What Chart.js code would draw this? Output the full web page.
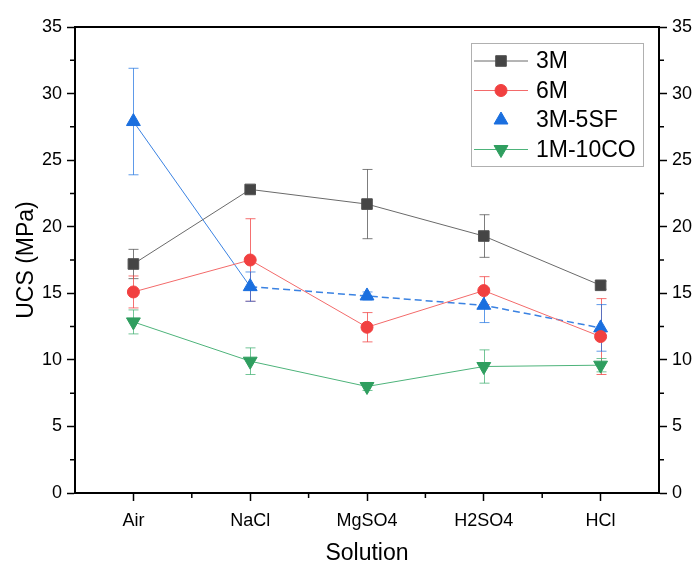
<!DOCTYPE html>
<html>
<head>
<meta charset="utf-8">
<script src="https://cdn.jsdelivr.net/npm/chart.js@4/dist/chart.umd.min.js"></script>
<style>
  html, body { margin: 0; padding: 0; background: #fff; }
</style>
</head>
<body>
<canvas id="ucsChart" width="698" height="565"></canvas>
<script>
const solutions = ['Air', 'NaCl', 'MgSO4', 'H2SO4', 'HCl'];

const ucs3M = [17.2, 22.8, 21.7, 19.3, 15.6];
const err3M = [1.1, 0.3, 2.6, 1.6, 0.3];

const ucs6M = [15.1, 17.5, 12.45, 15.2, 11.75];
const err6M = [1.2, 3.1, 1.1, 1.05, 2.85];

const ucs3M5SF = [27.9, 15.5, 14.8, 14.1, 12.4];
const err3M5SF = [4.0, 1.1, 0.3, 1.3, 1.75];

const ucs1M10CO = [12.85, 9.9, 8.0, 9.5, 9.6];
const err1M10CO = [0.9, 1.0, 0.3, 1.25, 0.5];

const FONT = 'Liberation Sans, Arial, sans-serif';

// error bars, drawn under the lines and markers
const errorBars = {
    id: 'errorBars',
    beforeDatasetsDraw(chart) {
        const { ctx, scales: { x, y } } = chart;
        chart.data.datasets.forEach(ds => {
            if (!ds.errors) return;
            ctx.save();
            ctx.strokeStyle = ds.errorColor;
            ctx.lineWidth = 1;
            ds.data.forEach((v, j) => {
                const px = Math.round(x.getPixelForValue(j)) + 0.5;
                const top = y.getPixelForValue(v + ds.errors[j]);
                const bot = y.getPixelForValue(v - ds.errors[j]);
                ctx.beginPath();
                ctx.moveTo(px, top); ctx.lineTo(px, bot);
                ctx.moveTo(px - 5, top); ctx.lineTo(px + 5, top);
                ctx.moveTo(px - 5, bot); ctx.lineTo(px + 5, bot);
                ctx.stroke();
            });
            ctx.restore();
        });
    }
};

// top border line + minor ticks
const frame = {
    id: 'frame',
    afterDraw(chart) {
        const { ctx, chartArea: a, scales: { x, y } } = chart;
        ctx.save();
        ctx.strokeStyle = '#000';
        ctx.lineWidth = 2;
        ctx.beginPath();
        ctx.moveTo(a.left - 1, a.top);
        ctx.lineTo(a.right + 1, a.top);
        ctx.stroke();

        ctx.lineWidth = 1.5;
        ctx.beginPath();
        for (let v = 2.5; v < 35; v += 5) {
            const py = y.getPixelForValue(v);
            ctx.moveTo(a.left, py); ctx.lineTo(a.left - 5, py);
            ctx.moveTo(a.right, py); ctx.lineTo(a.right + 5, py);
        }
        for (let j = 0; j < solutions.length - 1; j++) {
            const px = (x.getPixelForValue(j) + x.getPixelForValue(j + 1)) / 2;
            ctx.moveTo(px, a.bottom); ctx.lineTo(px, a.bottom + 5);
        }
        ctx.stroke();
        ctx.restore();
    }
};

// boxed legend inside the plot, line + marker samples
const boxLegend = {
    id: 'boxLegend',
    afterDraw(chart) {
        const { ctx, chartArea: a } = chart;
        const w = 172, h = 123;
        const left = a.right - 16 - w, top = a.top + 16;
        ctx.save();
        ctx.fillStyle = '#fff';
        ctx.fillRect(left, top, w, h);
        ctx.strokeStyle = '#b0b0b0';
        ctx.lineWidth = 1;
        ctx.strokeRect(left + 0.5, top + 0.5, w, h);
        ctx.font = '23px ' + FONT;
        ctx.textBaseline = 'middle';
        chart.data.datasets.forEach((ds, i) => {
            const cy = top + 18 + i * 29.5;
            if (ds.legendLine !== false) {
                ctx.strokeStyle = ds.borderColor;
                ctx.lineWidth = 1;
                ctx.beginPath();
                ctx.moveTo(left + 3, cy); ctx.lineTo(left + 57, cy);
                ctx.stroke();
            }
            ctx.fillStyle = ds.pointBackgroundColor;
            ctx.strokeStyle = ds.pointBorderColor;
            ctx.lineWidth = 1;
            Chart.helpers.drawPoint(ctx, {
                pointStyle: ds.pointStyle,
                radius: ds.pointRadius,
                rotation: ds.pointRotation || 0,
                borderWidth: 1
            }, left + 30, cy);
            ctx.fillStyle = '#000';
            ctx.fillText(ds.label, left + 65, cy + 1);
        });
        ctx.restore();
    }
};

const ctx = document.getElementById('ucsChart').getContext('2d');
const ucsChart = new Chart(ctx, {
    type: 'line',
    data: {
        labels: solutions,
        datasets: [
            {
                label: '3M',
                data: ucs3M,
                errors: err3M,
                errorColor: 'rgba(81, 81, 81, 0.75)',
                borderColor: '#6a6a6a',
                borderWidth: 1,
                pointStyle: 'rect',
                pointRadius: 7.5,
                pointBackgroundColor: '#454545',
                pointBorderColor: '#515151',
                pointBorderWidth: 1
            },
            {
                label: '6M',
                data: ucs6M,
                errors: err6M,
                errorColor: 'rgba(241, 64, 64, 0.75)',
                borderColor: '#f36a6a',
                borderWidth: 1,
                pointStyle: 'circle',
                pointRadius: 6,
                pointBackgroundColor: '#f14040',
                pointBorderColor: '#f14040',
                pointBorderWidth: 1
            },
            {
                label: '3M-5SF',
                data: ucs3M5SF,
                errors: err3M5SF,
                errorColor: 'rgba(26, 111, 223, 0.7)',
                borderColor: '#3a82e2',
                borderWidth: 1,
                segment: {
                    borderDash: c => c.p0DataIndex >= 1 ? [7, 4] : undefined,
                    borderWidth: c => c.p0DataIndex >= 1 ? 1.5 : 1
                },
                legendLine: false,
                pointStyle: 'triangle',
                pointRadius: 8,
                pointBackgroundColor: '#1a6fdf',
                pointBorderColor: '#1a6fdf',
                pointBorderWidth: 1
            },
            {
                label: '1M-10CO',
                data: ucs1M10CO,
                errors: err1M10CO,
                errorColor: 'rgba(55, 173, 107, 0.7)',
                borderColor: '#4db37a',
                borderWidth: 1,
                pointStyle: 'triangle',
                pointRotation: 180,
                pointRadius: 8,
                pointBackgroundColor: '#2f9e5f',
                pointBorderColor: '#2f9e5f',
                pointBorderWidth: 1
            }
        ]
    },
    options: {
        responsive: false,
        animation: false,
        events: [],
        layout: { padding: { top: 27, left: 0, right: 0, bottom: 0 } },
        plugins: {
            legend: { display: false },
            tooltip: { enabled: false }
        },
        elements: { line: { tension: 0 } },
        scales: {
            x: {
                offset: true,
                grid: { drawOnChartArea: false, tickLength: 8, tickColor: '#000', tickWidth: 1.5, offset: false },
                border: { display: true, color: '#000', width: 2 },
                ticks: { color: '#000', font: { family: FONT, size: 18 }, padding: 9 },
                title: {
                    display: true, text: 'Solution', color: '#000',
                    font: { family: FONT, size: 23 }, padding: { top: 0, bottom: -2 }
                },
                afterFit(scale) { scale.height = 72; }
            },
            y: {
                position: 'left',
                min: 0,
                max: 35,
                grid: { drawOnChartArea: false, tickLength: 8, tickColor: '#000', tickWidth: 1.5 },
                border: { display: true, color: '#000', width: 2 },
                ticks: { stepSize: 5, color: '#000', font: { family: FONT, size: 18 }, padding: 5 },
                title: {
                    display: true, text: 'UCS (MPa)', color: '#000',
                    font: { family: FONT, size: 23 }, padding: { top: 13, bottom: 0 }
                },
                afterFit(scale) { scale.width = 75; }
            },
            y2: {
                position: 'right',
                min: 0,
                max: 35,
                grid: { drawOnChartArea: false, tickLength: 8, tickColor: '#000', tickWidth: 1.5 },
                border: { display: true, color: '#000', width: 2 },
                ticks: { stepSize: 5, color: '#000', font: { family: FONT, size: 18 }, padding: 5 },
                afterFit(scale) { scale.width = 39; }
            }
        }
    },
    plugins: [errorBars, frame, boxLegend]
});
</script>
</body>
</html>
